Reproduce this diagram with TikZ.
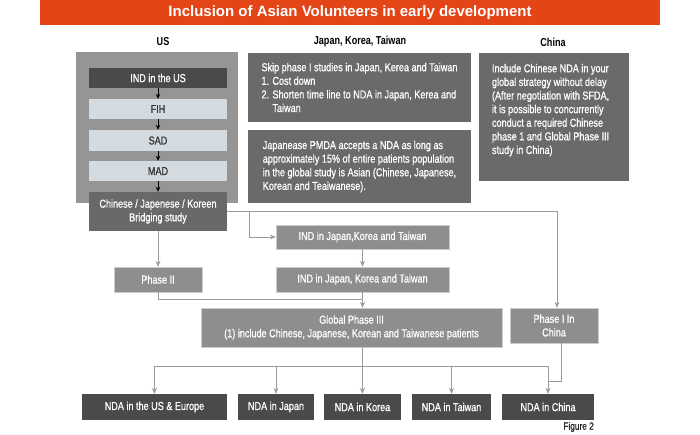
\documentclass[tikz,border=0pt]{standalone}
\usepackage{fontspec}
\setmainfont{Liberation Sans}[FakeStretch=0.79, UprightFeatures={FakeBold=0.8}]
\newfontfamily\titlefont{Liberation Sans}
\usetikzlibrary{arrows.meta,calc}
\definecolor{orng}{HTML}{E44517}
\definecolor{usbg}{HTML}{959595}
\definecolor{darkb}{HTML}{4A4A4A}
\definecolor{lightb}{HTML}{D3DAE0}
\definecolor{bridgeb}{HTML}{696969}
\definecolor{textb}{HTML}{6A6A6A}
\definecolor{midb}{HTML}{8E8E8E}
\definecolor{lnc}{HTML}{9B9B9B}
\newcommand\bodyfs{\fontsize{11.5}{13.6}\selectfont}
\tikzset{
  bx/.style={rectangle, inner sep=0pt, align=center, text=white, font=\bodyfs},
  darkbox/.style={bx, fill=darkb},
  lightbox/.style={bx, fill=lightb, text=black!80},
  midbox/.style={bx, fill=midb, draw=black!20, line width=0.4pt},
  txtbox/.style={bx, fill=textb, align=left},
  hdr/.style={font=\bodyfs\bfseries, text=black},
  gline/.style={draw=lnc, line width=0.9pt},
  garrow/.style={gline, -{Stealth[length=6pt,width=5pt]}},
  barrow/.style={draw=black, line width=0.9pt, -{Stealth[length=5pt,width=4.5pt]}}
}
\begin{document}
\begin{tikzpicture}[x=1pt,y=-1pt]
\useasboundingbox (0,0) rectangle (700,435);
% title
\node[rectangle, fill=orng, minimum width=620pt, minimum height=25pt, inner sep=0pt,
      text=white, font=\titlefont\fontsize{15}{17}\selectfont\bfseries] (title) at (350,12.5)
      {Inclusion of Asian Volunteers in early development};
% headers
\node[hdr] (hus) at (163,42) {US};
\node[hdr] (hjkt) at (360,42) {Japan, Korea, Taiwan};
\node[hdr] (hcn) at (553,42) {China};
% US column
\node[rectangle, fill=usbg, minimum width=162pt, minimum height=151pt, inner sep=0pt] (usbg) at (157,127.5) {};
\node[darkbox, minimum width=138pt, minimum height=20pt] (indus) at (158,78) {IND in the US};
\node[lightbox, minimum width=138pt, minimum height=20pt] (fih) at (158,109) {FIH};
\node[lightbox, minimum width=138pt, minimum height=21pt] (sad) at (158,140.5) {SAD};
\node[lightbox, minimum width=138pt, minimum height=20pt] (mad) at (158,171) {MAD};
\node[bx, fill=bridgeb, minimum width=138pt, minimum height=39pt] (bridge) at (158,211.5)
      {Chinese / Japenese / Koreen\\Bridging study};
% Japan Korea Taiwan text boxes
\node[txtbox, minimum width=223pt, minimum height=69pt] (jkt1) at (359.5,87.5)
      {Skip phase I studies in Japan, Kerea and Taiwan\\
       1. Cost down\\
       2. Shorten time line to NDA in Japan, Kerea and\\
       \phantom{2. }Taiwan};
\node[txtbox, minimum width=223pt, minimum height=73pt] (jkt2) at (359.5,166.5)
      {Japanease PMDA accepts a NDA as long as\\
       approximately 15\% of entire patients population\\
       in the global study is Asian (Chinese, Japanese,\\
       Korean and Teaiwanese).};
% China text box
\node[rectangle, fill=textb, minimum width=150pt, minimum height=128pt, inner sep=0pt] (china) at (554,117) {};
\node[anchor=north west, inner sep=0pt, align=left, text=white, font=\bodyfs] (chinatxt)
      at ([xshift=13pt,yshift=-11pt]china.north west)
      {Include Chinese NDA in your\\
       global strategy without delay\\
       (After negotiation with SFDA,\\
       it is possible to concurrently\\
       conduct a required Chinese\\
       phase 1 and Global Phase III\\
       study in China)};
% middle flow
\node[midbox, minimum width=173pt, minimum height=24pt] (ind1) at (362.5,237) {IND in Japan,Korea and Taiwan};
\node[midbox, minimum width=173pt, minimum height=25pt] (ind2) at (362.5,279.5) {IND in Japan, Korea and Taiwan};
\node[midbox, minimum width=88pt, minimum height=25pt] (phase2) at (158,279.5) {Phase II};
\node[midbox, minimum width=301pt, minimum height=39pt] (global) at (351.5,327.5)
      {Global Phase III\\(1) include Chinese, Japanese, Korean and Taiwanese patients};
\node[midbox, minimum width=88pt, minimum height=35pt] (phase1c) at (554,325.5) {Phase I In\\China};
% NDA row
\node[darkbox, minimum width=145pt, minimum height=26pt] (ndaus) at (154.5,407) {NDA in the US \& Europe};
\node[darkbox, minimum width=76pt, minimum height=26pt] (ndajp) at (276,407) {NDA in Japan};
\node[darkbox, minimum width=77pt, minimum height=26pt] (ndakr) at (362.5,407) {NDA in Korea};
\node[darkbox, minimum width=79pt, minimum height=26pt] (ndatw) at (451.5,407) {NDA in Taiwan};
\node[darkbox, minimum width=92pt, minimum height=26pt] (ndacn) at (548,407) {NDA in China};
\node[anchor=east, inner sep=0pt, font=\fontsize{10.5}{11}\selectfont, text=black!85] (fig) at (594,427) {Figure 2};
% coordinates
\coordinate (br) at (249,211.5);
\coordinate (j1) at (362.5,299);
\coordinate (bus) at (0,366);
\coordinate (pcj) at (548,381);
% US column arrows
\draw[barrow] (indus.south) -- (fih.north);
\draw[barrow] (fih.south) -- (sad.north);
\draw[barrow] (sad.south) -- (mad.north);
\draw[barrow] (mad.south) -- (bridge.north);
% gray connectors
\draw[garrow] (bridge.south) -- (phase2.north);
\draw[garrow] (bridge.east) -| ([xshift=3pt]phase1c.north);
\draw[garrow] (br) |- (ind1.west);
\draw[garrow] (ind1.south) -- (ind2.north);
\draw[garrow] (ind2.south) -- (ind2.south |- global.north);
\draw[gline] (phase2.south) |- (j1);
\draw[gline] (ndaus.north |- bus) -- (ndacn.north |- bus);
\draw[garrow] (global.south -| ndakr.north) -- (ndakr.north);
\draw[garrow] (ndaus.north |- bus) -- (ndaus.north);
\draw[garrow] (ndajp.north |- bus) -- (ndajp.north);
\draw[garrow] (ndatw.north |- bus) -- (ndatw.north);
\draw[garrow] (ndacn.north |- bus) -- (ndacn.north);
\draw[gline] ([xshift=7pt]phase1c.south) |- (pcj);
\end{tikzpicture}
\end{document}
